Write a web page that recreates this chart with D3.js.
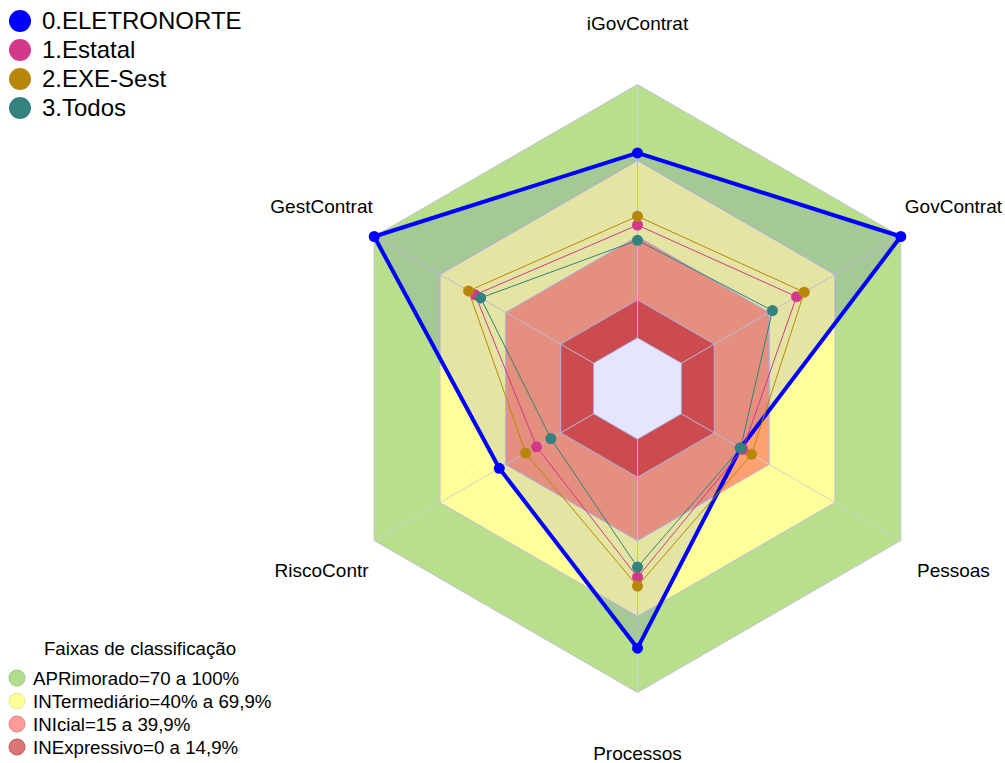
<!DOCTYPE html>
<html lang="pt">
<head>
    <meta charset="UTF-8">
    <title>Radar iGovContrat</title>
    <script src="https://d3js.org/d3.v7.min.js"></script>
    <style>
        body {
            margin: 0;
            background-color: #fff;
            font-family: Arial, "Liberation Sans", sans-serif;
        }
        .axis-label {
            font-size: 19px;
            fill: #000;
        }
        .legend-text {
            font-size: 24px;
            fill: #000;
        }
        .band-text {
            font-size: 18.7px;
            fill: #000;
        }
    </style>
</head>
<body>
    <div id="chart"></div>
    <script>
        // eixos do radar (sentido horario a partir do topo)
        const axes = ['iGovContrat', 'GovContrat', 'Pessoas', 'Processos', 'RiscoContr', 'GestContrat'];

        // series (valores em %)
        const seriesNames = ['0.ELETRONORTE', '1.Estatal', '2.EXE-Sest', '3.Todos'];
        const eletronorte = [73, 100, 27, 82.5, 43, 100];
        const estatal = [44.5, 52.5, 28, 54.5, 26, 54];
        const exeSest = [48, 56, 32, 58, 31, 57];
        const todos = [38.5, 41.5, 27, 50.5, 19.5, 51.5];
        const seriesColors = ['#0000ff', '#d4388a', '#b8860b', '#33827d'];

        // faixas de classificacao
        const bandNames = ['APRimorado=70 a 100%', 'INTermediário=40% a 69,9%', 'INIcial=15 a 39,9%', 'INExpressivo=0 a 14,9%'];
        const bandTop = [100, 70, 40, 15];
        const bandBottom = [70, 40, 15, 0];
        const bandColors = ['#b8e08a', '#ffff99', '#ffa070', '#e3543a'];
        const bandLegendColors = ['#b3dd8c', '#ffff99', '#ff9a9a', '#dc7676'];
        const bandLegendStroke = ['#9cc978', '#e8e88a', '#ee8888', '#c85a5a'];

        const width = 1005, height = 763;
        const cx = 637.5, cy = 388.5, R = 304;

        const svg = d3.select('#chart').append('svg')
            .attr('width', width)
            .attr('height', height);

        // escala radial: o centro tem um "buraco" de 1/6 do raio
        const r = d3.scaleLinear().domain([0, 100]).range([R / 6, R]);
        const angle = d3.scalePoint().domain(axes.concat(['_end'])).range([-Math.PI / 2, 1.5 * Math.PI]);

        function pt(axis, v) {
            const a = angle(axis);
            return [cx + r(v) * Math.cos(a), cy + r(v) * Math.sin(a)];
        }

        function hexPath(v) {
            return 'M' + axes.map(ax => pt(ax, v).join(',')).join('L') + 'Z';
        }

        const g = svg.append('g');

        // aneis das faixas
        g.selectAll('.band')
            .data(bandTop)
            .enter()
            .append('path')
            .attr('class', 'band')
            .attr('d', (d, i) => hexPath(d) + hexPath(bandBottom[i]))
            .attr('fill-rule', 'evenodd')
            .attr('fill', (d, i) => bandColors[i])
            .attr('stroke', '#c4c0d8')
            .attr('stroke-width', 1);

        // linhas dos eixos
        g.selectAll('.axis-line')
            .data(axes)
            .enter()
            .append('line')
            .attr('x1', d => pt(d, 0)[0])
            .attr('y1', d => pt(d, 0)[1])
            .attr('x2', d => pt(d, 100)[0])
            .attr('y2', d => pt(d, 100)[1])
            .attr('stroke', '#d0d0d8')
            .attr('stroke-width', 1);

        // series
        const allSeries = [eletronorte, estatal, exeSest, todos];

        allSeries.forEach(function(values, s) {
            const pts = axes.map((ax, i) => pt(ax, values[i]));
            const line = d3.line().curve(d3.curveLinearClosed);

            g.append('path')
                .attr('d', line(pts))
                .attr('fill', s === 0 ? 'rgba(0,0,255,0.1)' : 'none')
                .attr('stroke', seriesColors[s])
                .attr('stroke-width', s === 0 ? 4 : 1)
                .attr('stroke-linejoin', 'round');

            g.selectAll('.dot-' + s)
                .data(pts)
                .enter()
                .append('circle')
                .attr('cx', d => d[0])
                .attr('cy', d => d[1])
                .attr('r', 5.5)
                .attr('fill', seriesColors[s]);
        });

        // rotulos dos eixos
        g.selectAll('.axis-label')
            .data(axes)
            .enter()
            .append('text')
            .attr('class', 'axis-label')
            .attr('x', d => pt(d, 100)[0] + (r(124) - R) * Math.cos(angle(d)))
            .attr('y', d => pt(d, 100)[1] + (r(124) - R) * Math.sin(angle(d)))
            .attr('text-anchor', 'middle')
            .attr('dominant-baseline', 'central')
            .text(d => d);

        // legenda das series
        const legend = svg.selectAll('.legend')
            .data(seriesNames)
            .enter()
            .append('g')
            .attr('transform', (d, i) => `translate(20, ${21 + i * 29})`);

        legend.append('circle')
            .attr('r', 11)
            .attr('fill', (d, i) => seriesColors[i]);

        legend.append('text')
            .attr('class', 'legend-text')
            .attr('x', 22)
            .attr('dy', '0.35em')
            .text(d => d);

        // legenda das faixas
        svg.append('text')
            .attr('class', 'band-text')
            .attr('x', 140)
            .attr('y', 648)
            .attr('text-anchor', 'middle')
            .attr('dominant-baseline', 'central')
            .text('Faixas de classificação');

        const bandLegend = svg.selectAll('.band-legend')
            .data(bandNames)
            .enter()
            .append('g')
            .attr('transform', (d, i) => `translate(17, ${678 + i * 23})`);

        bandLegend.append('circle')
            .attr('r', 8)
            .attr('fill', (d, i) => bandLegendColors[i])
            .attr('stroke', (d, i) => bandLegendStroke[i])
            .attr('stroke-width', 1);

        bandLegend.append('text')
            .attr('class', 'band-text')
            .attr('x', 16)
            .attr('dy', '0.35em')
            .text(d => d);
    </script>
</body>
</html>
